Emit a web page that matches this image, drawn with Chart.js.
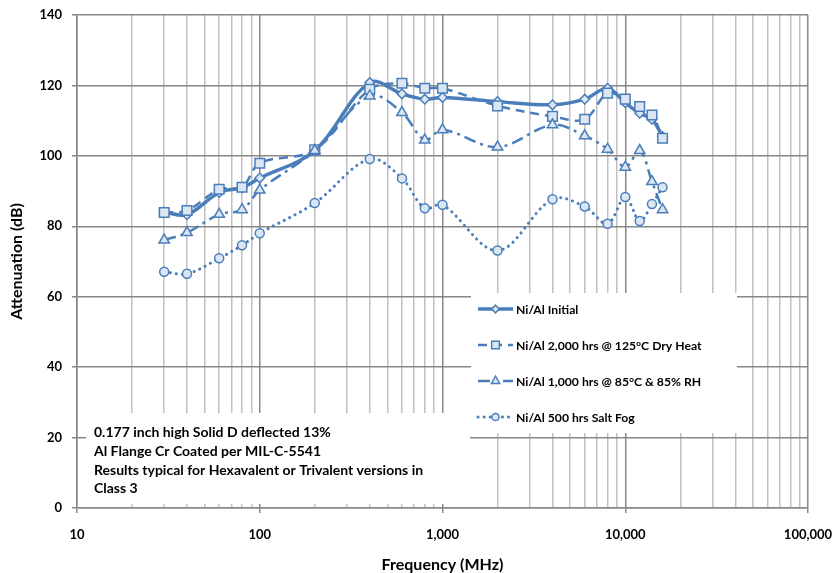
<!DOCTYPE html>
<html>
<head>
<meta charset="utf-8">
<script src="https://cdn.jsdelivr.net/npm/chart.js@4.4.0/dist/chart.umd.min.js"></script>
<style>
  html, body { margin: 0; padding: 0; background: #fff; }
</style>
</head>
<body>
<canvas id="grafico" width="837" height="573"></canvas>
<script>
// Datos
const frecuencias = [30, 40, 60, 80, 100, 200, 400, 600, 800, 1000, 2000, 4000, 6000, 8000, 10000, 12000, 14000, 16000];
const inicial     = [84, 83.3, 89.6, 91, 93.7, 101.5, 120.8, 117.6, 116.1, 116.6, 115.4, 114.5, 116.1, 119.2, 115.1, 112.1, 110.4, 105.5];
const calorSeco   = [83.9, 84.5, 90.5, 91.1, 97.9, 101.7, 118.9, 120.6, 119.2, 119.2, 114.2, 111.2, 110.4, 117.8, 116.1, 114, 111.6, 105];
const humedad     = [76.1, 78.2, 83.4, 84.7, 90.3, 101.5, 117, 112.3, 104.5, 107.4, 102.5, 108.8, 105.7, 101.9, 96.8, 101.5, 92.7, 84.7];
const niebla      = [67.1, 66.5, 70.9, 74.6, 78, 86.6, 99.1, 93.6, 85.1, 86.1, 73.1, 87.7, 85.6, 80.7, 88.3, 81.5, 86.3, 91.1];
const nombres = [
    'Ni/Al Initial',
    'Ni/Al 2,000 hrs @ 125°C Dry Heat',
    'Ni/Al 1,000 hrs @ 85°C & 85% RH',
    'Ni/Al 500 hrs Salt Fog'
];
const decadas = [10, 100, 1000, 10000, 100000];
const ticksY = [0, 20, 40, 60, 80, 100, 120, 140];
const notas = [
    '0.177 inch high Solid D deflected 13%',
    'Al Flange Cr Coated per MIL-C-5541',
    'Results typical for Hexavalent or Trivalent versions in',
    'Class 3'
];

const AZUL = '#4a7ebb';
const RELLENO = '#dce6f2';
const FUENTE = 'Lato, "Open Sans", sans-serif';

// gridlines menores 10..90, 100..900, ...
const posicionesX = [];
decadas.slice(0, -1).forEach(d => { for (let k = 1; k <= 9; k++) posicionesX.push(d * k); });
posicionesX.push(decadas[decadas.length - 1]);

const puntos = arr => frecuencias.map((f, i) => ({ x: f, y: arr[i] }));

const series = [
    { datos: inicial,   estilo: 'rectRot',  radio: 4.8, ancho: 3.5, dash: [],            cap: 'butt' },
    { datos: calorSeco, estilo: 'rect',     radio: 6.8, ancho: 2.5, dash: [9, 6],        cap: 'butt' },
    { datos: humedad,   estilo: 'triangle', radio: 6,   ancho: 2.5, dash: [12, 5, 3, 5], cap: 'butt' },
    { datos: niebla,    estilo: 'circle',   radio: 4.5, ancho: 3,   dash: [0.1, 6],      cap: 'round' }
];

function dibujarMarcador(ctx, estilo, x, y, r) {
    ctx.beginPath();
    if (estilo === 'rectRot') {
        ctx.moveTo(x, y - r); ctx.lineTo(x + r, y); ctx.lineTo(x, y + r); ctx.lineTo(x - r, y);
        ctx.closePath();
    } else if (estilo === 'rect') {
        const s = r * Math.SQRT1_2;
        ctx.rect(x - s, y - s, 2 * s, 2 * s);
    } else if (estilo === 'triangle') {
        ctx.moveTo(x, y - r);
        ctx.lineTo(x + r * 0.866, y + r * 0.5);
        ctx.lineTo(x - r * 0.866, y + r * 0.5);
        ctx.closePath();
    } else {
        ctx.arc(x, y, r, 0, Math.PI * 2);
    }
    ctx.fillStyle = RELLENO;
    ctx.fill();
    ctx.setLineDash([]);
    ctx.lineWidth = 1.5;
    ctx.strokeStyle = AZUL;
    ctx.stroke();
}

// Leyenda y cuadro de notas dentro del área del gráfico
const cajasPlugin = {
    id: 'cajas',
    afterDraw(chart) {
        const ctx = chart.ctx;
        ctx.save();
        // leyenda
        ctx.fillStyle = '#fff';
        ctx.fillRect(471, 293, 266, 140);
        const filasY = [309, 345, 381, 417];
        series.forEach((s, i) => {
            const y = filasY[i];
            ctx.beginPath();
            ctx.setLineDash(s.dash);
            ctx.lineCap = s.cap;
            ctx.lineWidth = s.ancho;
            ctx.strokeStyle = AZUL;
            ctx.moveTo(478, y);
            ctx.lineTo(513, y);
            ctx.stroke();
            ctx.lineCap = 'butt';
            dibujarMarcador(ctx, s.estilo, 495.5, y, s.radio * 0.8);
            ctx.fillStyle = '#000';
            ctx.font = 'bold 12.2px ' + FUENTE;
            ctx.textBaseline = 'middle';
            ctx.fillText(nombres[i], 516, y + 1);
        });
        // notas
        ctx.fillStyle = '#fff';
        ctx.fillRect(86, 413, 384, 91);
        ctx.fillStyle = '#000';
        ctx.font = 'bold 14px ' + FUENTE;
        ctx.textBaseline = 'middle';
        [432, 451, 470, 488].forEach((y, i) => ctx.fillText(notas[i], 94, y));
        ctx.restore();
    }
};

const esDecada = v => decadas.includes(v);

new Chart(document.getElementById('grafico'), {
    type: 'line',
    data: {
        datasets: series.map((s, i) => ({
            label: nombres[i],
            data: puntos(s.datos),
            borderColor: AZUL,
            borderWidth: s.ancho,
            borderDash: s.dash,
            borderCapStyle: s.cap,
            tension: 0.35,
            fill: false,
            pointStyle: s.estilo,
            pointRadius: s.radio,
            pointBackgroundColor: RELLENO,
            pointBorderColor: AZUL,
            pointBorderWidth: 1.5,
            order: 3 - i
        }))
    },
    options: {
        responsive: false,
        animation: false,
        layout: { padding: { top: 15, right: 29, left: 0, bottom: 0 } },
        plugins: { legend: { display: false }, tooltip: { enabled: false } },
        scales: {
            x: {
                type: 'logarithmic',
                min: 10,
                max: 100000,
                afterBuildTicks: s => { s.ticks = posicionesX.map(v => ({ value: v })); },
                afterFit: s => { s.height = 65; s.paddingLeft = 0; s.paddingRight = 0; },
                ticks: {
                    autoSkip: false,
                    maxRotation: 0,
                    padding: 14,
                    color: '#000',
                    font: { family: FUENTE, weight: 'bold', size: 13 },
                    callback: v => esDecada(v) ? v.toLocaleString('en-US') : ''
                },
                grid: {
                    color: c => (c.tick && esDecada(c.tick.value)) ? '#888888' : '#c0c0c0',
                    lineWidth: 1.5,
                    tickLength: 5,
                    tickColor: c => (c.tick && esDecada(c.tick.value)) ? '#888888' : 'rgba(0,0,0,0)'
                },
                border: { color: '#888888', width: 1.5 },
                title: {
                    display: true,
                    text: 'Frequency (MHz)',
                    color: '#000',
                    font: { family: FUENTE, weight: 'bold', size: 16 },
                    padding: { top: 0, bottom: -1 }
                }
            },
            y: {
                min: 0,
                max: 140,
                afterBuildTicks: s => { s.ticks = ticksY.map(v => ({ value: v })); },
                afterFit: s => { s.width = 77; s.paddingTop = 0; s.paddingBottom = 0; },
                ticks: {
                    padding: 10,
                    color: '#000',
                    font: { family: FUENTE, weight: 'bold', size: 13 }
                },
                grid: { color: '#888888', lineWidth: 1.5, tickLength: 5 },
                border: { color: '#888888', width: 1.5 },
                title: {
                    display: true,
                    text: 'Attenuation (dB)',
                    color: '#000',
                    font: { family: FUENTE, weight: 'bold', size: 16 },
                    padding: { top: 7, bottom: 0 }
                }
            }
        }
    },
    plugins: [cajasPlugin]
});
</script>
</body>
</html>
